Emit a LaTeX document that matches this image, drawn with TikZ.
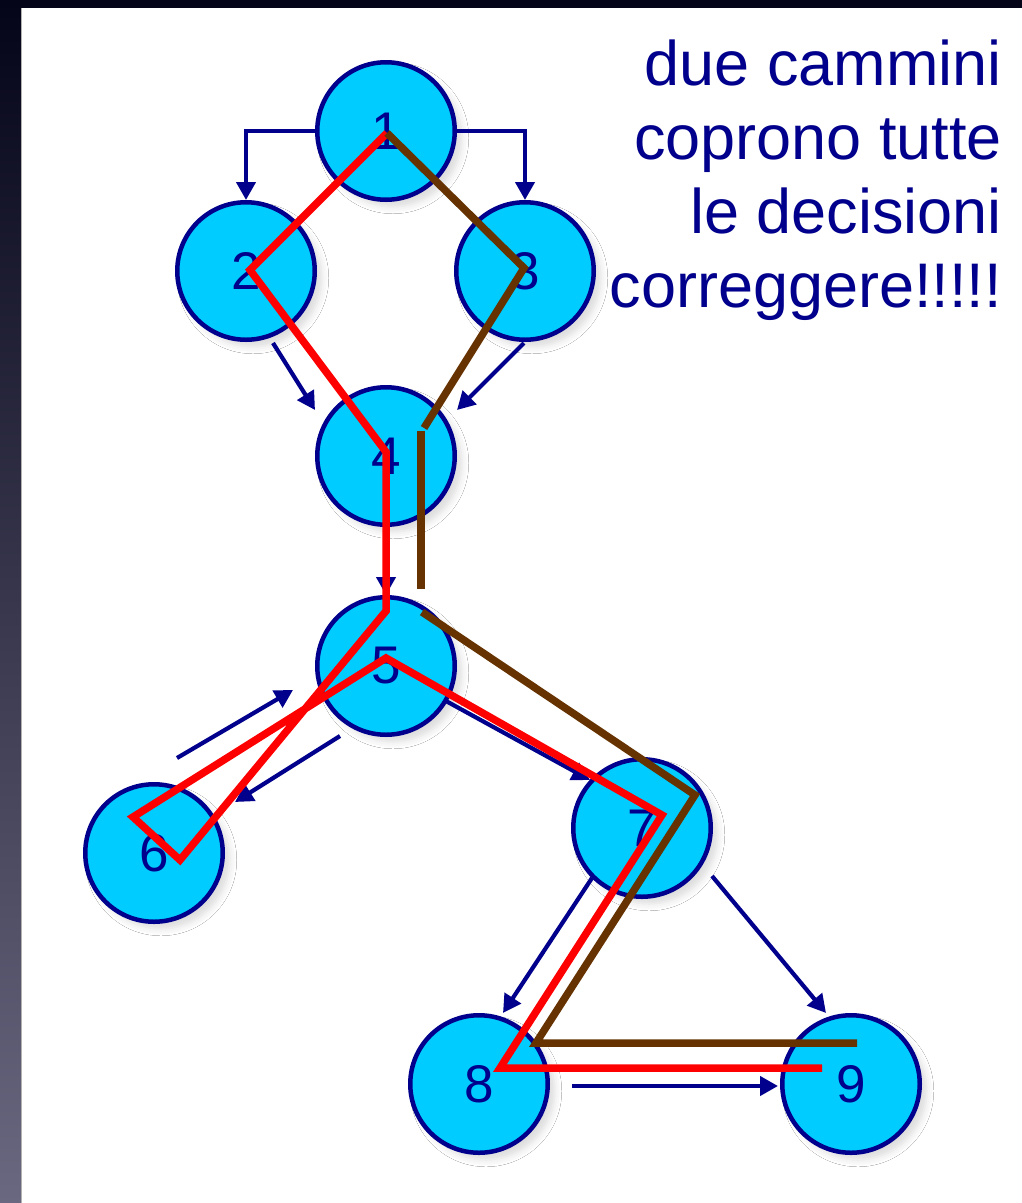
\documentclass[tikz,border=0pt]{standalone}
\usepackage{fontspec}
\setmainfont{Liberation Sans}
\usetikzlibrary{arrows.meta,shadows.blur}
\definecolor{dnavy}{RGB}{0,0,140}
\definecolor{nodecyan}{RGB}{0,204,255}
\definecolor{pathred}{RGB}{255,0,0}
\definecolor{pathbrown}{RGB}{102,51,0}
\definecolor{stripTop}{RGB}{5,5,25}
\definecolor{stripBot}{RGB}{106,104,128}
\begin{document}
\begin{tikzpicture}[x=1pt,y=-1pt,
  vert/.style={circle, draw=dnavy, line width=4.5pt, fill=nodecyan,
    minimum size=137.5pt, inner sep=0pt, text=dnavy,
    font=\fontsize{53}{60}\selectfont,
    blur shadow={shadow xshift=7pt, shadow yshift=-7pt, shadow blur radius=7pt, shadow opacity=14}},
  arr/.style={draw=dnavy, line width=4.2pt, -{Triangle[length=18pt,width=19pt]}},
  redpath/.style={draw=pathred, line width=7.5pt},
  brownpath/.style={draw=pathbrown, line width=7.5pt},
  caption/.style={anchor=base east, inner sep=0pt, text=dnavy, font=\fontsize{63}{73}\selectfont}]
\useasboundingbox (0,0) rectangle (1022,1203);
% background
\fill[white] (0,0) rectangle (1022,1203);
\shade[top color=stripTop, bottom color=stripBot] (0,0) rectangle (21,1203);
\fill[stripTop] (0,0) rectangle (1022,8);
\draw[gray!60, line width=0.8pt] (21.4,8) -- (21.4,1203);

% caption
\node[caption] (t1) at (1002,85) {due cammini};
\node[caption] (t2) at (1002,159) {coprono tutte};
\node[caption] (t3) at (1002,233) {le decisioni};
\node[caption] (t4) at (1002,307) {correggere!!!!!};

% nodes
\node[vert] (n1) at (386,131) {1};
\node[vert] (n2) at (246,271) {2};
\node[vert] (n3) at (525,271) {3};
\node[vert] (n4) at (386,456) {4};
\node[vert] (n5) at (386,666) {5};
\node[vert] (n6) at (154,853) {6};
\node[vert] (n7) at (642,828) {7};
\node[vert] (n8) at (479,1084) {8};
\node[vert] (n9) at (851,1084) {9};

% blue arrows
\draw[arr] (n1.west) -| (n2.north);
\draw[arr] (n1.east) -| (n3.north);
\draw[arr] ([shift={(27,72)}]n2.center) -- ([shift={(-71,-46)}]n4.center);
\draw[arr] ([shift={(-1,72)}]n3.center) -- ([shift={(71,-46)}]n4.center);
\draw[arr] (n4.south) -- (n5.north);
\draw[arr] ([shift={(23,-95)}]n6.center) -- ([shift={(-93,24)}]n5.center);
\draw[arr] ([shift={(-46,70)}]n5.center) -- ([shift={(81,-51)}]n6.center);
\draw[arr] ([shift={(60,35)}]n5.center) -- ([shift={(-52,-48)}]n7.center);
\draw[arr] ([shift={(-50,50)}]n7.center) -- ([shift={(24,-71)}]n8.center);
\draw[arr] ([shift={(70,48)}]n7.center) -- ([shift={(-25,-71)}]n9.center);
\draw[arr] ([shift={(93,2)}]n8.center) -- ([shift={(-73,2)}]n9.center);

% red path
\coordinate (r1) at (387,133);
\coordinate (r2) at (250,270);
\coordinate (r3) at (386,452);
\coordinate (r4) at (386,611);
\coordinate (r5) at (180,860);
\coordinate (r6) at (133,817);
\coordinate (r7) at (386,658);
\coordinate (r8) at (662,815);
\coordinate (r9) at (500,1068);
\coordinate (r10) at (822,1068);
\draw[redpath] (r1) -- (r2) -- (r3) -- (r4) -- (r5) -- (r6) -- (r7) -- (r8) -- (r9) -- (r10);

% brown path
\coordinate (b1) at (387,133);
\coordinate (b2) at (524,268);
\coordinate (b3) at (424,428);
\coordinate (b4) at (421,431);
\coordinate (b5) at (421,589);
\coordinate (b6) at (422,612);
\coordinate (b7) at (695,795);
\coordinate (b8) at (536,1043);
\coordinate (b9) at (857,1043);
\draw[brownpath] (b1) -- (b2) -- (b3);
\draw[brownpath] (b4) -- (b5);
\draw[brownpath] (b6) -- (b7) -- (b8) -- (b9);
\end{tikzpicture}
\end{document}
